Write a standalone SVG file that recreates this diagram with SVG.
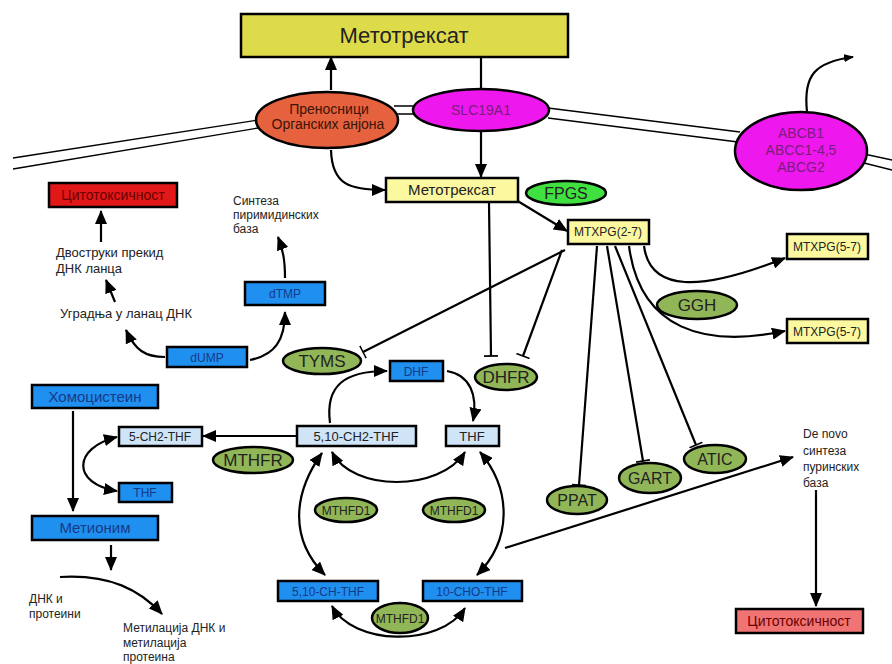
<svg xmlns="http://www.w3.org/2000/svg" width="892" height="664" viewBox="0 0 892 664">
<defs>
<marker id="arr" viewBox="0 0 14 12" refX="13" refY="6" markerWidth="14" markerHeight="12" markerUnits="userSpaceOnUse" orient="auto-start-reverse">
<path d="M0,0 L14,6 L0,12 z" fill="#000"/>
</marker>
<marker id="arrs" viewBox="0 0 10 8" refX="9" refY="4" markerWidth="10" markerHeight="8" markerUnits="userSpaceOnUse" orient="auto">
<path d="M0,0 L10,4 L0,8 z" fill="#000"/>
</marker>
<marker id="tee" viewBox="0 0 4 14" refX="2" refY="7" markerWidth="4" markerHeight="14" markerUnits="userSpaceOnUse" orient="auto">
<path d="M2,0 L2,14" stroke="#000" stroke-width="1.6"/>
</marker>
<style>
text{font-family:"Liberation Sans",Arial,sans-serif;fill:#222;}
.c{text-anchor:middle;}
.box{stroke:#000;stroke-width:2.5;}
.yb{fill:#fcf8a0;}
.bb{fill:#1f8ff0;}
.lb{fill:#cfe5f7;}
.ol{fill:#91b657;stroke:#000;stroke-width:2.5;}
.mem{stroke:#000;stroke-width:1.3;fill:none;}
.con path{fill:none;stroke:#000;stroke-width:2.2;}
.a{marker-end:url(#arr);}
.aa{marker-start:url(#arr);marker-end:url(#arr);}
.t{marker-end:url(#tee);}
.bt{fill:#173a86;}
</style>
</defs>
<rect width="892" height="664" fill="#fff"/>

<g id="membrane">
<path class="mem" d="M13,158 L258,120 M13,169 L258,128"/>
<path class="mem" d="M394,106 L418,106 M394,114 L418,114"/>
<path class="mem" d="M548,108 L740,132 M548,118 L738,142"/>
<path class="mem" d="M864,154 L892,160 M864,163 L892,170"/>
</g>

<g class="con" id="connectors">
<path class="a" d="M331,90 L331,57"/>
<path d="M481,57 L481,90"/>
<path class="a" d="M481,131 L481,177"/>
<path class="a" d="M331,150 C332,185 350,190 385,190"/>
<path class="a" d="M516,200 L567,231"/>
<path class="a" d="M807,112 C803,75 815,62 853,57" style="marker-end:url(#arrs)"/>
<path class="t" d="M489,203 L491,356"/>
<path class="t" d="M562,250 L523,356"/>
<path class="t" d="M565,250 L363,352"/>
<path class="t" d="M597,246 L579,485"/>
<path class="t" d="M607,246 L643,461"/>
<path class="t" d="M615,246 L696,445"/>
<path class="a" d="M644,246 C650,292 700,292 785,258"/>
<path class="a" d="M629,246 C640,330 705,348 785,331"/>
<path class="a" d="M505,548 L793,457"/>
<path class="a" d="M816,490 L816,606"/>
<path class="a" d="M330,423 C325,385 345,371 387,371"/>
<path class="a" d="M447,371 C470,375 478,395 473,421"/>
<path class="aa" d="M332,452 C352,492 440,492 465,452"/>
<path class="aa" d="M322,453 C292,495 290,540 325,575"/>
<path class="aa" d="M480,452 C512,490 512,540 477,575"/>
<path class="aa" d="M332,606 C352,645 440,648 465,608"/>
<path class="a" d="M296,436 L203,436"/>
<path class="aa" d="M117,437 C72,448 72,484 117,491"/>
<path class="a" d="M73,411 L73,511"/>
<path class="a" d="M111,545 L111,570"/>
<path class="a" d="M60,577 C110,574 140,590 162,614"/>
<path class="a" d="M165,357 C145,357 135,350 126,330"/>
<path class="a" d="M250,360 C275,355 285,340 285,312"/>
<path class="a" d="M285,278 C285,260 283,250 278,237"/>
<path class="a" d="M115,302 L106,280"/>
<path class="a" d="M101,242 L101,211"/>
</g>

<g id="mtx-top">
<rect class="box" x="241" y="14" width="327" height="43" fill="#dedb4b"/>
<text class="c" x="404" y="43" font-size="22">Метотрексат</text>
</g>
<g id="oat">
<ellipse cx="327" cy="120" rx="71" ry="28" fill="#e6613d" stroke="#000" stroke-width="2.5"/>
<text class="c" x="329" y="114" font-size="14" style="fill:#3a1508">Преносници</text>
<text class="c" x="328" y="129" font-size="14" style="fill:#3a1508">Органских анјона</text>
</g>
<g id="slc">
<ellipse cx="481" cy="110" rx="68" ry="21" fill="#ee18ee" stroke="#000" stroke-width="2.5"/>
<text class="c" x="481" y="115" font-size="14" style="fill:#7a1d7a">SLC19A1</text>
</g>
<g id="abc">
<ellipse cx="801" cy="151" rx="66" ry="39" fill="#ee18ee" stroke="#000" stroke-width="2.5"/>
<text class="c" x="801" y="138" font-size="14" style="fill:#7a1d7a">ABCB1</text>
<text class="c" x="801" y="155" font-size="14" style="fill:#7a1d7a">ABCC1-4,5</text>
<text class="c" x="801" y="172" font-size="14" style="fill:#7a1d7a">ABCG2</text>
</g>
<g id="mtx">
<rect class="box yb" x="386" y="178" width="132" height="24"/>
<text class="c" x="452" y="195" font-size="15">Метотрексат</text>
</g>
<g id="fpgs">
<ellipse cx="566" cy="193" rx="40" ry="12" fill="#3fe03f" stroke="#000" stroke-width="2.5"/>
<text class="c" x="566" y="199" font-size="16">FPGS</text>
</g>
<g id="mtxpg27">
<rect class="box yb" x="568" y="220" width="81" height="24"/>
<text class="c" x="608" y="236" font-size="12">MTXPG(2-7)</text>
</g>
<g id="mtxpg57a">
<rect class="box yb" x="787" y="234" width="81" height="25"/>
<text class="c" x="827" y="251" font-size="12">MTXPG(5-7)</text>
</g>
<g id="mtxpg57b">
<rect class="box yb" x="787" y="319" width="81" height="24"/>
<text class="c" x="827" y="336" font-size="12">MTXPG(5-7)</text>
</g>
<g id="ggh">
<ellipse class="ol" cx="697" cy="305" rx="40" ry="14"/>
<text class="c" x="697" y="311" font-size="17">GGH</text>
</g>
<g id="cyto1">
<rect class="box" x="49" y="183" width="128" height="24" fill="#e21818"/>
<text class="c" x="113" y="200" font-size="14" style="fill:#6a0000">Цитотоксичност</text>
</g>
<g id="sinteza-pir">
<text x="233" y="205" font-size="12">Синтеза</text>
<text x="233" y="219" font-size="12">пиримидинских</text>
<text x="233" y="233" font-size="12">база</text>
</g>
<g id="dvostruki">
<text x="56" y="257" font-size="13">Двоструки прекид</text>
<text x="56" y="273" font-size="13">ДНК ланца</text>
</g>
<g id="ugradnja">
<text x="60" y="318" font-size="13">Уградња у ланац ДНК</text>
</g>
<g id="dtmp">
<rect class="box bb" x="245" y="282" width="80" height="23"/>
<text class="c bt" x="285" y="298" font-size="12">dTMP</text>
</g>
<g id="dump">
<rect class="box bb" x="167" y="347" width="80" height="20"/>
<text class="c bt" x="207" y="362" font-size="12">dUMP</text>
</g>
<g id="tyms">
<ellipse class="ol" cx="322" cy="361" rx="39" ry="13"/>
<text class="c" x="322" y="367" font-size="17">TYMS</text>
</g>
<g id="dhf">
<rect class="box bb" x="390" y="361" width="53" height="20"/>
<text class="c bt" x="416" y="376" font-size="12">DHF</text>
</g>
<g id="dhfr">
<ellipse class="ol" cx="506" cy="377" rx="31" ry="13"/>
<text class="c" x="506" y="383" font-size="17">DHFR</text>
</g>
<g id="ch2thf">
<rect class="box lb" x="297" y="426" width="119" height="20"/>
<text class="c" x="356" y="441" font-size="13">5,10-CH2-THF</text>
</g>
<g id="thf">
<rect class="box lb" x="446" y="426" width="53" height="20"/>
<text class="c" x="472" y="441" font-size="13">THF</text>
</g>
<g id="homo">
<rect class="box bb" x="32" y="385" width="126" height="23"/>
<text class="c bt" x="95" y="402" font-size="15">Хомоцистеин</text>
</g>
<g id="m5ch2thf">
<rect class="box lb" x="119" y="427" width="83" height="19"/>
<text class="c" x="160" y="441" font-size="12">5-CH2-THF</text>
</g>
<g id="mthfr">
<ellipse class="ol" cx="253" cy="460" rx="40" ry="13"/>
<text class="c" x="253" y="466" font-size="17">MTHFR</text>
</g>
<g id="thf2">
<rect class="box bb" x="119" y="483" width="53" height="19"/>
<text class="c bt" x="145" y="497" font-size="12">THF</text>
</g>
<g id="metionim">
<rect class="box bb" x="32" y="516" width="126" height="24"/>
<text class="c bt" x="95" y="533" font-size="15">Метионим</text>
</g>
<g id="mthfd1a">
<ellipse class="ol" cx="346" cy="510" rx="31" ry="12"/>
<text class="c" x="346" y="515" font-size="12">MTHFD1</text>
</g>
<g id="mthfd1b">
<ellipse class="ol" cx="454" cy="510" rx="31" ry="12"/>
<text class="c" x="454" y="515" font-size="12">MTHFD1</text>
</g>
<g id="chthf">
<rect class="box bb" x="278" y="581" width="100" height="20"/>
<text class="c bt" x="328" y="596" font-size="12">5,10-CH-THF</text>
</g>
<g id="chothf">
<rect class="box bb" x="423" y="581" width="99" height="20"/>
<text class="c bt" x="472" y="596" font-size="12">10-CHO-THF</text>
</g>
<g id="mthfd1c">
<ellipse class="ol" cx="400" cy="618" rx="28" ry="15"/>
<text class="c" x="400" y="623" font-size="12">MTHFD1</text>
</g>
<g id="ppat">
<ellipse class="ol" cx="577" cy="500" rx="30" ry="14"/>
<text class="c" x="577" y="506" font-size="16">PPAT</text>
</g>
<g id="gart">
<ellipse class="ol" cx="650" cy="478" rx="31" ry="15"/>
<text class="c" x="650" y="484" font-size="16">GART</text>
</g>
<g id="atic">
<ellipse class="ol" cx="715" cy="459" rx="31" ry="14"/>
<text class="c" x="715" y="465" font-size="16">ATIC</text>
</g>
<g id="denovo">
<text x="803" y="438" font-size="12">De novo</text>
<text x="803" y="455" font-size="12">синтеза</text>
<text x="803" y="471" font-size="12">пуринских</text>
<text x="803" y="487" font-size="12">база</text>
</g>
<g id="cyto2">
<rect class="box" x="736" y="609" width="127" height="24" fill="#f07474"/>
<text class="c" x="799" y="626" font-size="14" style="fill:#6a0000">Цитотоксичност</text>
</g>
<g id="dnk">
<text x="29" y="603" font-size="12">ДНК и</text>
<text x="29" y="618" font-size="12">протеини</text>
</g>
<g id="metilacija">
<text x="123" y="632" font-size="12">Метилација ДНК и</text>
<text x="123" y="647" font-size="12">метилација</text>
<text x="123" y="661" font-size="12">протеина</text>
</g>
</svg>
